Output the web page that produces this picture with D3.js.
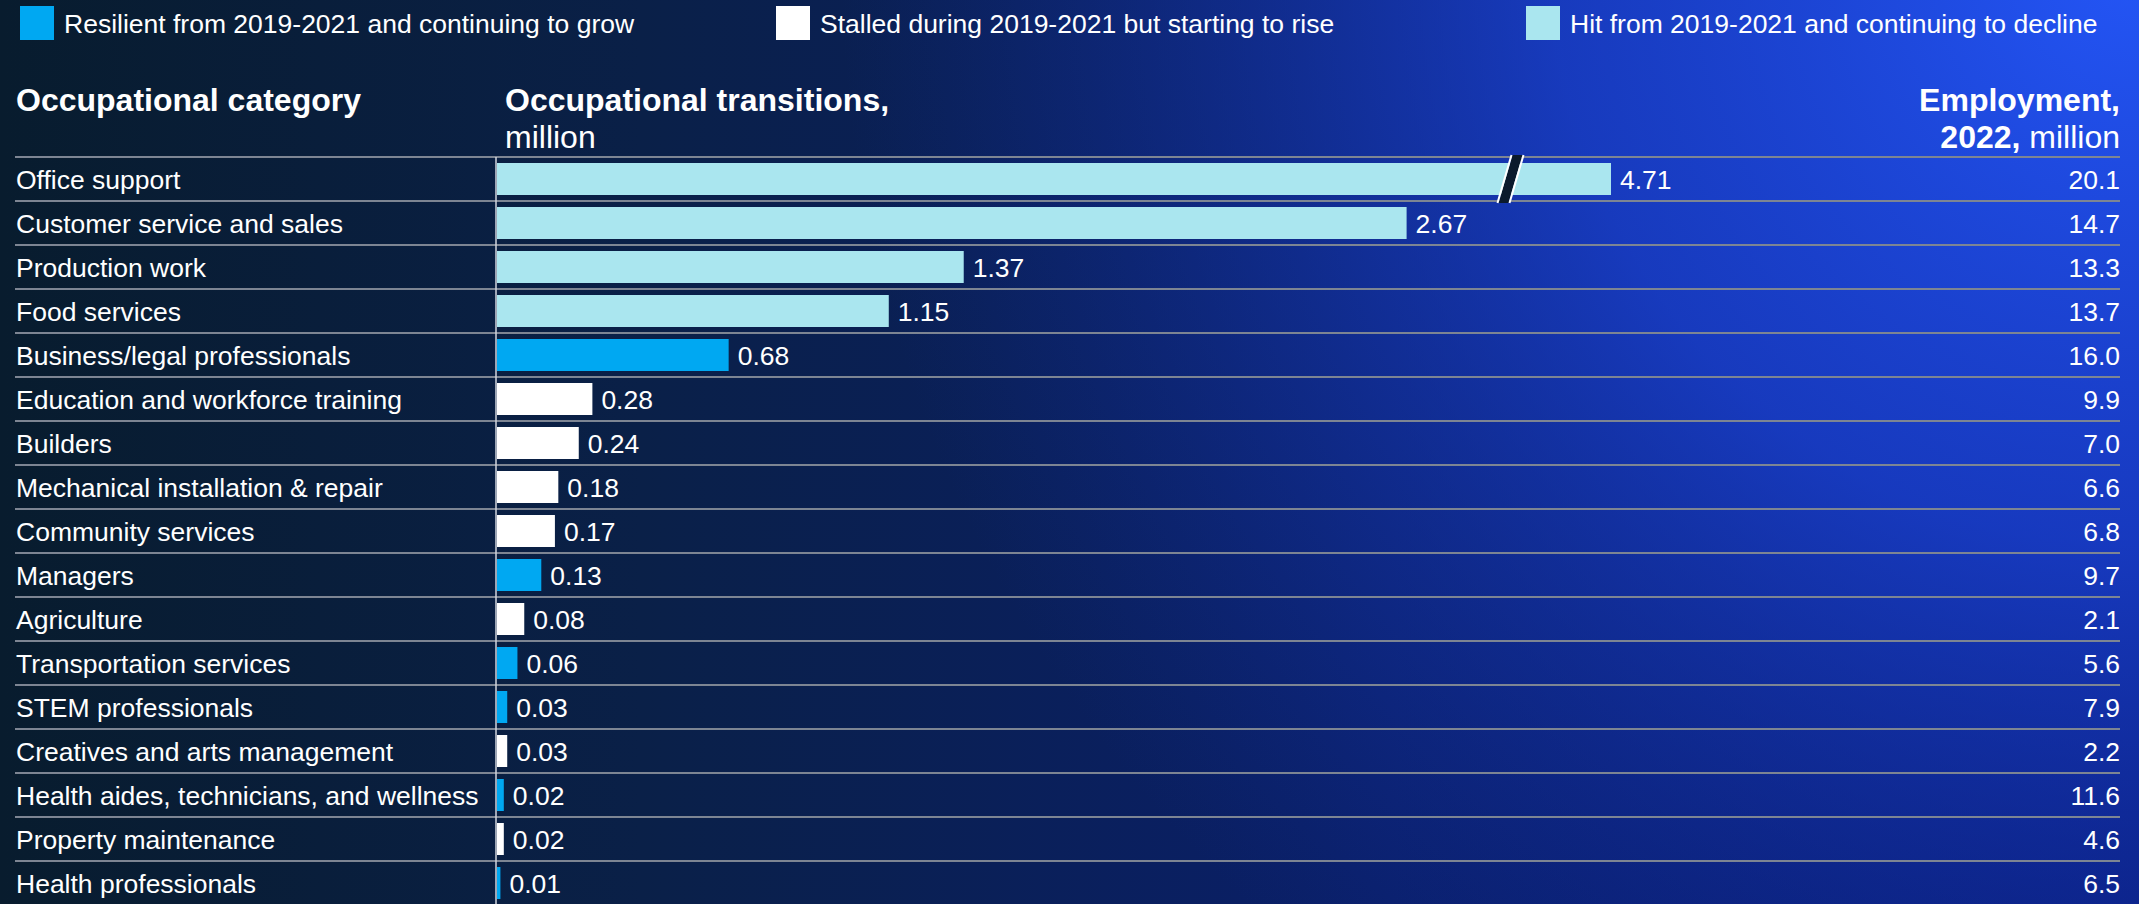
<!DOCTYPE html>
<html>
<head>
<meta charset="utf-8">
<script src="https://cdn.jsdelivr.net/npm/d3@7"></script>
<style>
html, body { margin:0; padding:0; background:#0a1d3a; overflow:hidden; }
svg { display:block; font-family:"Liberation Sans", Arial, sans-serif; }
</style>
</head>
<body>
<svg id="grafico"></svg>
<script>
// datos
var categorias = ["Office support", "Customer service and sales", "Production work", "Food services",
  "Business/legal professionals", "Education and workforce training", "Builders",
  "Mechanical installation & repair", "Community services", "Managers", "Agriculture",
  "Transportation services", "STEM professionals", "Creatives and arts management",
  "Health aides, technicians, and wellness", "Property maintenance", "Health professionals"];
var transiciones = [4.71, 2.67, 1.37, 1.15, 0.68, 0.28, 0.24, 0.18, 0.17, 0.13, 0.08, 0.06, 0.03, 0.03, 0.02, 0.02, 0.01];
var empleo = [20.1, 14.7, 13.3, 13.7, 16.0, 9.9, 7.0, 6.6, 6.8, 9.7, 2.1, 5.6, 7.9, 2.2, 11.6, 4.6, 6.5];
var grupos = ["hit", "hit", "hit", "hit", "resilient", "stalled", "stalled", "stalled", "stalled",
  "resilient", "stalled", "resilient", "resilient", "stalled", "resilient", "stalled", "resilient"];
var grupoNombres = ["resilient", "stalled", "hit"];
var leyendaTextos = ["Resilient from 2019-2021 and continuing to grow",
  "Stalled during 2019-2021 but starting to rise",
  "Hit from 2019-2021 and continuing to decline"];
var grupoColores = ["#00a8f2", "#ffffff", "#aae6ef"];
var tope = 3.27;   // la barra mas larga se corta aqui
var corte = 2.975; // posicion de la marca de corte

var ancho = 2139, alto = 904;
var svg = d3.select("#grafico").attr("width", ancho).attr("height", alto);

// fondo
var defs = svg.append("defs");
var lg = defs.append("linearGradient").attr("id", "fondoLin")
  .attr("x1", 0).attr("y1", 0).attr("x2", 1).attr("y2", 0);
lg.append("stop").attr("offset", "0%").attr("stop-color", "#081c2e");
lg.append("stop").attr("offset", "30%").attr("stop-color", "#0a2048");
lg.append("stop").attr("offset", "65%").attr("stop-color", "#0a1f6a");
lg.append("stop").attr("offset", "100%").attr("stop-color", "#071874");
var rg = defs.append("radialGradient").attr("id", "fondoRad")
  .attr("gradientUnits", "userSpaceOnUse")
  .attr("cx", ancho).attr("cy", -40).attr("r", 1300);
rg.append("stop").attr("offset", "0%").attr("stop-color", "#2456f7").attr("stop-opacity", 1);
rg.append("stop").attr("offset", "45%").attr("stop-color", "#1c44d8").attr("stop-opacity", 0.75);
rg.append("stop").attr("offset", "100%").attr("stop-color", "#12309a").attr("stop-opacity", 0);
svg.append("rect").attr("width", ancho).attr("height", alto).attr("fill", "url(#fondoLin)");
svg.append("rect").attr("width", ancho).attr("height", alto).attr("fill", "url(#fondoRad)");

var color = d3.scaleOrdinal().domain(grupoNombres).range(grupoColores);

// leyenda
var leyX = [20, 776, 1526];
var ley = svg.append("g").selectAll("g").data(grupoNombres).enter().append("g")
  .attr("transform", function (d, i) { return "translate(" + leyX[i] + ",6)"; });
ley.append("rect").attr("width", 34).attr("height", 34).attr("fill", function (d) { return color(d); });
ley.append("text").attr("x", 44).attr("y", 27).attr("fill", "#fff").attr("font-size", 26.5)
  .text(function (d, i) { return leyendaTextos[i]; });

// encabezados
var top0 = 157;
svg.append("text").attr("x", 16).attr("y", 111).attr("fill", "#fff").attr("font-size", 32)
  .attr("font-weight", "bold").text("Occupational category");
svg.append("text").attr("x", 505).attr("y", 111).attr("fill", "#fff").attr("font-size", 32)
  .attr("font-weight", "bold").text("Occupational transitions,");
svg.append("text").attr("x", 505).attr("y", 148).attr("fill", "#fff").attr("font-size", 32)
  .text("million");
svg.append("text").attr("x", 2120).attr("y", 111).attr("fill", "#fff").attr("font-size", 32)
  .attr("font-weight", "bold").attr("text-anchor", "end").text("Employment,");
var t2 = svg.append("text").attr("x", 2120).attr("y", 148).attr("fill", "#fff")
  .attr("text-anchor", "end").attr("font-size", 32);
t2.append("tspan").attr("font-weight", "bold").text("2022,");
t2.append("tspan").text(" million");

// escalas
var x = d3.scaleLinear().domain([0, tope]).range([497, 1611]);
var y = d3.scaleBand().domain(categorias).range([top0, top0 + 44 * categorias.length])
  .paddingInner(12 / 44).paddingOuter(6 / 44);
var filas = categorias.map(function (c, i) {
  return { cat: c, val: transiciones[i], emp: empleo[i], grupo: grupos[i] };
});

// lineas de filas
svg.append("g").selectAll("line").data(filas).enter().append("line")
  .attr("x1", 15).attr("x2", 2120)
  .attr("y1", function (d) { return y(d.cat) - 6; })
  .attr("y2", function (d) { return y(d.cat) - 6; })
  .attr("stroke", "#7d8593").attr("stroke-width", 2);

// barras
svg.append("g").selectAll("rect").data(filas).enter().append("rect")
  .attr("x", x(0))
  .attr("y", function (d) { return y(d.cat); })
  .attr("width", function (d) { return x(Math.min(d.val, tope)) - x(0); })
  .attr("height", y.bandwidth())
  .attr("fill", function (d) { return color(d.grupo); });

// eje vertical
svg.append("line").attr("x1", 496).attr("x2", 496).attr("y1", top0).attr("y2", alto)
  .attr("stroke", "#d0d4dc").attr("stroke-width", 1.5);

// marca de corte
var cx = x(corte);
var yTop = y(categorias[0]) - 8, yBot = y(categorias[0]) + y.bandwidth() + 8;
svg.append("polygon")
  .attr("points", [[cx + 2, yTop], [cx + 12, yTop], [cx - 2, yBot], [cx - 12, yBot]].join(" "))
  .attr("fill", "#0b1a2c");
svg.append("line").attr("x1", cx + 1).attr("y1", yTop).attr("x2", cx - 13).attr("y2", yBot)
  .attr("stroke", "#fff").attr("stroke-width", 2);
svg.append("line").attr("x1", cx + 13).attr("y1", yTop).attr("x2", cx - 1).attr("y2", yBot)
  .attr("stroke", "#fff").attr("stroke-width", 2);

// textos de filas
var tg = svg.append("g").attr("font-size", 26.5).attr("fill", "#fff");
tg.selectAll(".cat").data(filas).enter().append("text").attr("class", "cat")
  .attr("x", 16).attr("y", function (d) { return y(d.cat) + y.bandwidth() / 2; })
  .attr("dy", "0.36em").text(function (d) { return d.cat; });
tg.selectAll(".val").data(filas).enter().append("text").attr("class", "val")
  .attr("x", function (d) { return x(Math.min(d.val, tope)) + 9; })
  .attr("y", function (d) { return y(d.cat) + y.bandwidth() / 2; })
  .attr("dy", "0.36em").text(function (d) { return d3.format(".2f")(d.val); });
tg.selectAll(".emp").data(filas).enter().append("text").attr("class", "emp")
  .attr("x", 2120).attr("text-anchor", "end")
  .attr("y", function (d) { return y(d.cat) + y.bandwidth() / 2; })
  .attr("dy", "0.36em").text(function (d) { return d3.format(".1f")(d.emp); });
</script>
</body>
</html>
